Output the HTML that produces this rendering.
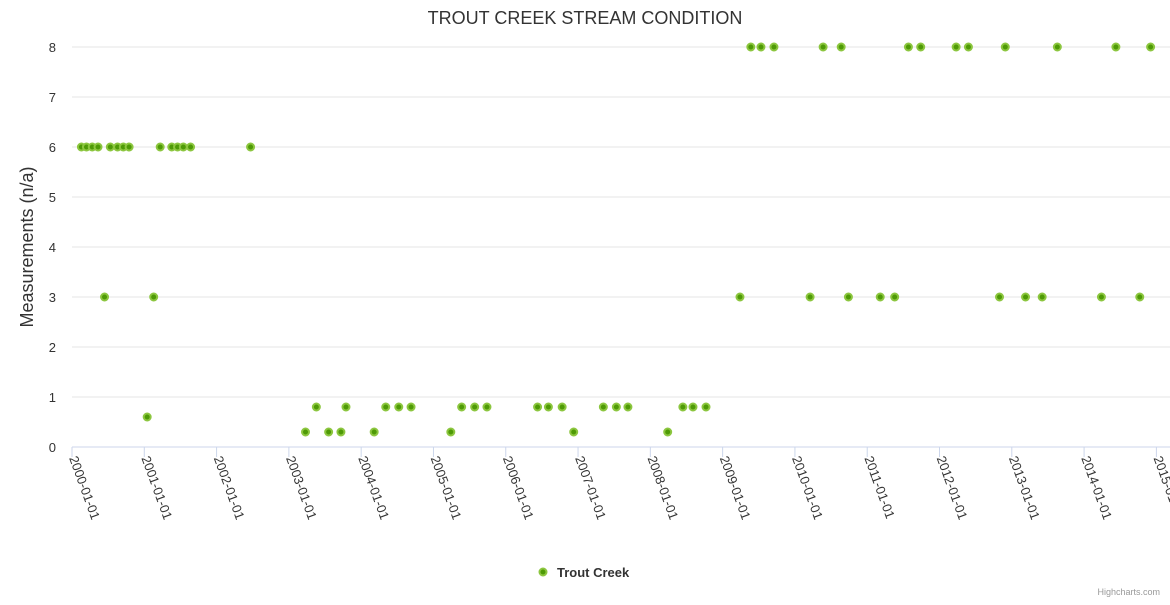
<!DOCTYPE html>
<html><head><meta charset="utf-8"><style>
body{margin:0;background:#fff;}
svg text{font-family:"Liberation Sans",sans-serif;}
</style></head><body>
<svg id="chart" width="1170" height="600" xmlns="http://www.w3.org/2000/svg">
<text x="585" y="24" text-anchor="middle" font-size="18" fill="#333">TROUT CREEK STREAM CONDITION</text>
<text transform="translate(33,247) rotate(-90)" text-anchor="middle" font-size="18" fill="#333">Measurements (n/a)</text>
<g id="grid"></g><g id="xaxis"></g><g id="pts"></g>
<g>
<circle cx="543" cy="572" r="3.5" fill="#4e9a06" stroke="#8cc63f" stroke-width="2"/>
<text x="557" y="577" font-size="13" font-weight="bold" fill="#333">Trout Creek</text>
</g>
<text x="1160" y="595" text-anchor="end" font-size="9" fill="#999">Highcharts.com</text>
</svg>
<script>
const yTicks=[0,1,2,3,4,5,6,7,8];
const xTickLabels=["2000-01-01","2001-01-01","2002-01-01","2003-01-01","2004-01-01","2005-01-01","2006-01-01","2007-01-01","2008-01-01","2009-01-01","2010-01-01","2011-01-01","2012-01-01","2013-01-01","2014-01-01","2015-01-01"];
const dates=[2000.13,2000.20,2000.28,2000.36,2000.45,2000.53,2000.63,2000.71,2000.79,2001.04,2001.13,2001.22,2001.38,2001.46,2001.54,2001.64,2002.47,
2003.23,2003.38,2003.55,2003.72,2003.79,2004.18,2004.34,2004.52,2004.69,2005.24,2005.39,2005.57,2005.74,2006.44,2006.59,2006.78,2006.94,2007.35,2007.53,2007.69,2008.24,2008.45,2008.59,2008.77,
2009.24,2009.39,2009.53,2009.71,2010.21,2010.39,2010.64,2010.74,2011.18,2011.38,2011.57,2011.74,2012.23,2012.40,2012.83,2012.91,2013.19,2013.42,2013.63,2014.24,2014.44,2014.77,2014.92];
const values=[6,6,6,6,3,6,6,6,6,0.6,3,6,6,6,6,6,6,
0.3,0.8,0.3,0.3,0.8,0.3,0.8,0.8,0.8,0.3,0.8,0.8,0.8,0.8,0.8,0.8,0.3,0.8,0.8,0.8,0.3,0.8,0.8,0.8,
3,8,8,8,3,8,8,3,3,3,8,8,8,8,3,8,3,3,8,3,8,3,8];
const NS="http://www.w3.org/2000/svg";
const x0=72,x1=1160,y0=447,y1=47;
function xs(v){return x0+(v-2000)*(x1-x0)/15.05;}
function ys(v){return y0-(v-0)*(y0-y1)/8;}
function mk(t,a,p){const e=document.createElementNS(NS,t);for(const k in a)e.setAttribute(k,a[k]);p.appendChild(e);return e;}
const grid=document.getElementById('grid');
yTicks.forEach(t=>{
 const l=mk('line',{x1:x0,x2:x1+10,y1:ys(t),y2:ys(t),stroke:t===0?'#ccd6eb':'#e6e6e6','stroke-width':1},grid);
 
 
 const tx=mk('text',{x:56,y:ys(t)+5,'text-anchor':'end','font-size':13,fill:'#333'},grid);
 tx.textContent=t;
 
 
});
const xa=document.getElementById('xaxis');
xTickLabels.forEach((s,i)=>{
 const x=xs(2000+i);
 const l=mk('line',{x1:x,x2:x,y1:y0,y2:y0+10,stroke:'#ccd6eb'},xa);
 
 
 const tx=mk('text',{transform:`translate(${x-3},458) rotate(70)`,'font-size':13,fill:'#333'},xa);
 tx.textContent=s;
 
 
});
const pts=document.getElementById('pts');
dates.forEach((d,i)=>{
 const c=mk('circle',{cx:xs(d),cy:ys(values[i]),r:3.5,fill:'#4e9a06',stroke:'#8cc63f','stroke-width':2},pts);
 
 
});
</script>
</body></html>
